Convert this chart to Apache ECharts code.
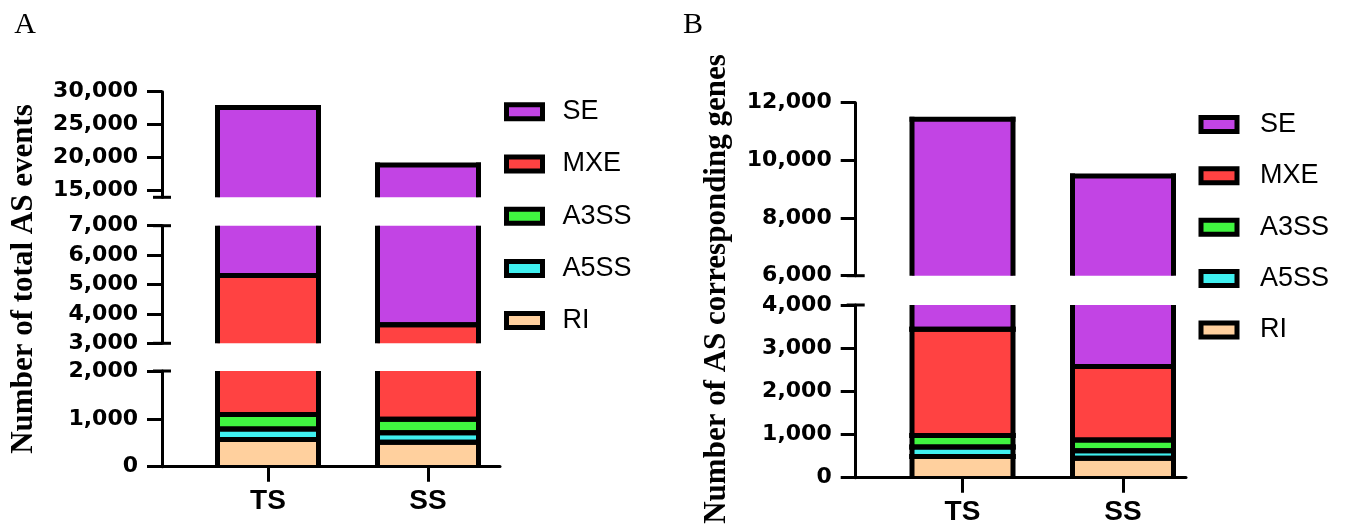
<!DOCTYPE html>
<html><head><meta charset="utf-8">
<script src="https://cdn.jsdelivr.net/npm/echarts@6/dist/echarts.min.js"></script>
<style>html,body{margin:0;padding:0;background:#fff}#c{width:1352px;height:527px}</style>
</head><body><div id="c"></div>
<script>
// ---------- data ----------
const categories = ['TS', 'SS'];
const stackOrder = ['RI', 'A5SS', 'A3SS', 'MXE', 'SE'];      // bottom -> top
const legendOrder = ['SE', 'MXE', 'A3SS', 'A5SS', 'RI'];

// Panel A: Number of total AS events
const eventsRI   = [570, 510];
const eventsA5SS = [220, 200];
const eventsA3SS = [300, 280];
const eventsMXE  = [4220, 2640];
const eventsSE   = [22300, 15270];

// Panel B: Number of AS corresponding genes
const genesRI   = [490, 450];
const genesA5SS = [220, 175];
const genesA3SS = [270, 250];
const genesMXE  = [2460, 1700];
const genesSE   = [7990, 6885];

// tick labels of the broken axes
const aUpperTicks = [15000, 20000, 25000, 30000];
const aMidTicks   = [3000, 4000, 5000, 6000, 7000];
const aLowerTicks = [0, 1000, 2000];
const bUpperTicks = [6000, 8000, 10000, 12000];
const bLowerTicks = [0, 1000, 2000, 3000, 4000];

const colors = { SE: '#C244E4', MXE: '#FF4242', A3SS: '#40F540', A5SS: '#40F0F0', RI: '#FFD09E' };

// ---------- layout ----------
const panels = [
  {
    values: { RI: eventsRI, A5SS: eventsA5SS, A3SS: eventsA3SS, MXE: eventsMXE, SE: eventsSE },
    axisX: 162, firstCenter: 268, step: 160, xEnd: 500, barPx: 101,
    segs: [
      { min: 14000, max: 30000, top: 91.7, bottom: 197.3, ticks: aUpperTicks, caps: [14000] },
      { min: 3000, max: 7000, top: 225.7, bottom: 343.3, ticks: aMidTicks, caps: [3000, 7000] },
      { min: 0, max: 2000, top: 371, bottom: 466.7, ticks: aLowerTicks, caps: [2000] }
    ]
  },
  {
    values: { RI: genesRI, A5SS: genesA5SS, A3SS: genesA3SS, MXE: genesMXE, SE: genesSE },
    axisX: 855.7, firstCenter: 962.5, step: 160.5, xEnd: 1186, barPx: 101,
    segs: [
      { min: 6000, max: 12000, top: 102.7, bottom: 275.7, ticks: bUpperTicks, caps: [6000] },
      { min: 0, max: 4000, top: 305, bottom: 477.7, ticks: bLowerTicks, caps: [4000] }
    ]
  }
];

const fmt = v => String(v).replace(/\B(?=(\d{3})+(?!\d))/g, ',');

const grids = [], xAxes = [], yAxes = [], series = [];

function barRender(seg, color, barW) {
  return function (params, api) {
    const x = api.value(0), lo = api.value(1), hi = api.value(2);
    const a = Math.max(lo, seg.min), b = Math.min(hi, seg.max);
    if (a >= b) return { type: 'group', children: [] };
    const pb = api.coord([x, a]), pt = api.coord([x, b]);
    const w = api.size([barW, 0])[0];
    const L = pb[0] - w / 2, R = pb[0] + w / 2;
    const lw = 5, h = lw / 2;
    const hasTop = hi <= seg.max;
    const hasBot = lo >= seg.min && lo > 0;
    const yTop = pt[1] - (hasTop ? h : 0), yBot = pb[1] + (hasBot ? h : 0);
    const ch = [
      { type: 'rect', shape: { x: L, y: pt[1], width: w, height: pb[1] - pt[1] }, style: { fill: color }, z2: 0 },
      { type: 'line', shape: { x1: L, y1: yTop, x2: L, y2: yBot }, style: { stroke: '#000', lineWidth: lw }, z2: 10 },
      { type: 'line', shape: { x1: R, y1: yTop, x2: R, y2: yBot }, style: { stroke: '#000', lineWidth: lw }, z2: 10 }
    ];
    if (hasTop) ch.push({ type: 'line', shape: { x1: L - h, y1: pt[1], x2: R + h, y2: pt[1] }, style: { stroke: '#000', lineWidth: lw }, z2: 10 });
    if (hasBot) ch.push({ type: 'line', shape: { x1: L - h, y1: pb[1], x2: R + h, y2: pb[1] }, style: { stroke: '#000', lineWidth: lw }, z2: 10 });
    return { type: 'group', children: ch };
  };
}

function capRender(xMin) {
  return function (params, api) {
    const p = api.coord([xMin, api.value(1)]);
    return { type: 'line', shape: { x1: p[0] - 9, y1: p[1], x2: p[0] + 9, y2: p[1] }, style: { stroke: '#000', lineWidth: 3 }, z2: 5 };
  };
}

panels.forEach(pn => {
  const xMin = -(pn.firstCenter - pn.axisX) / pn.step;
  const xMax = (pn.xEnd - pn.firstCenter) / pn.step;
  const barW = pn.barPx / pn.step;
  pn.segs.forEach((seg, si) => {
    const gi = grids.length;
    const isLast = si === pn.segs.length - 1;
    grids.push({ left: pn.axisX, top: seg.top, width: pn.xEnd - pn.axisX, height: seg.bottom - seg.top });
    xAxes.push({
      type: 'value', gridIndex: gi, min: xMin, max: xMax, show: isLast, z: 10,
      axisLine: { show: true, onZero: false, lineStyle: { color: '#000', width: 3 } },
      axisTick: { show: true, customValues: [0, 1], length: 15, lineStyle: { color: '#000', width: 3 } },
      axisLabel: { show: true, customValues: [0, 1], formatter: v => categories[Math.round(v)],
        fontFamily: 'Liberation Sans', fontWeight: 'bold', fontSize: 28, color: '#000', margin: 21 },
      splitLine: { show: false }
    });
    yAxes.push({
      type: 'value', gridIndex: gi, min: seg.min, max: seg.max,
      axisLine: { show: true, onZero: false, lineStyle: { color: '#000', width: 3 } },
      axisTick: { show: true, customValues: seg.ticks, length: 15, lineStyle: { color: '#000', width: 3 } },
      axisLabel: { show: true, customValues: seg.ticks, formatter: fmt, showMinLabel: true, showMaxLabel: true,
        fontFamily: 'DejaVu Sans', fontWeight: 'bold', fontSize: 22, color: '#000', margin: 24 },
      splitLine: { show: false }
    });
    // stacked segments
    const cum = categories.map(() => 0);
    stackOrder.forEach(name => {
      const vals = pn.values[name];
      const data = categories.map((c, ci) => {
        const lo = cum[ci], hi = lo + vals[ci];
        cum[ci] = hi;
        return [ci, lo, hi];
      });
      series.push({
        type: 'custom', name: name, xAxisIndex: gi, yAxisIndex: gi, clip: false,
        itemStyle: { color: colors[name], borderColor: '#000', borderWidth: 5 },
        renderItem: barRender(seg, colors[name], barW), data: data, silent: true
      });
    });
    series.push({
      type: 'custom', name: 'axisBreak', xAxisIndex: gi, yAxisIndex: gi, clip: false, silent: true,
      renderItem: capRender(xMin), data: seg.caps.map(v => [xMin, v])
    });
  });
});

function legendFor(left, top, gap, pad) {
  return {
    orient: 'vertical', left: left, top: top, padding: 0, itemGap: gap,
    itemWidth: 36, itemHeight: 14, icon: 'rect', data: legendOrder, selectedMode: false,
    itemStyle: { borderColor: '#000', borderWidth: 5 },
    textStyle: { fontFamily: 'Liberation Sans', fontSize: 27, color: '#000', padding: [0, 0, 0, pad] }
  };
}

const chart = echarts.init(document.getElementById('c'));
chart.setOption({
  animation: false,
  backgroundColor: '#fff',
  grid: grids, xAxis: xAxes, yAxis: yAxes, series: series,
  legend: [legendFor(504, 98.3, 25.2, 15), legendFor(1198.5, 110.9, 24.4, 18)],
  graphic: [
    { type: 'text', x: 25, y: 25, style: { text: 'A', font: '30px "Liberation Serif"', fill: '#000', align: 'center', verticalAlign: 'middle' } },
    { type: 'text', x: 693, y: 25, style: { text: 'B', font: '30px "Liberation Serif"', fill: '#000', align: 'center', verticalAlign: 'middle' } },
    { type: 'text', x: 24, y: 279, rotation: Math.PI / 2, style: { text: 'Number of total AS events', font: 'bold 31px "Liberation Serif"', fill: '#000', align: 'center', verticalAlign: 'middle' } },
    { type: 'text', x: 717, y: 289, rotation: Math.PI / 2, style: { text: 'Number of AS corresponding genes', font: 'bold 31px "Liberation Serif"', fill: '#000', align: 'center', verticalAlign: 'middle' } }
  ]
});
</script></body></html>
